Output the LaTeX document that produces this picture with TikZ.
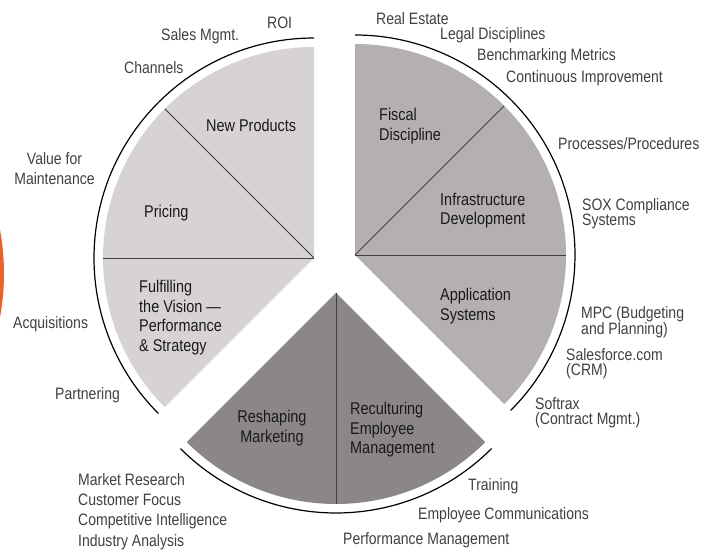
\documentclass[tikz,border=0pt]{standalone}
\usepackage{fontspec}
\setmainfont[FakeStretch=0.85]{Liberation Sans}
\usepackage{tikz}
\definecolor{lightpie}{RGB}{215,211,210}
\definecolor{midpie}{RGB}{180,176,175}
\definecolor{darkpie}{RGB}{139,135,134}
\definecolor{flame}{RGB}{232,98,42}

\begin{document}
\begin{tikzpicture}[x=1pt,y=1pt,
        sidetext/.style={inner sep=0pt,text=black!75,font=\fontsize{16.5}{20.7}\selectfont},
        sidetight/.style={sidetext,font=\fontsize{16.5}{15}\selectfont},
        slicetext/.style={inner sep=0pt,text=black!90,font=\fontsize{17}{19.5}\selectfont},
        rim/.style={line width=1.2pt},
        divider/.style={line width=0.8pt,black!75}]
        \useasboundingbox (0,0) rectangle (707,551);
        \begin{scope}
                \clip (0,0) rectangle (707,551);
                \fill[flame] (-234.5,277.5) circle (238.5);
        \end{scope}
        \coordinate (lc) at (314,293);
        \coordinate (rc) at (355,296);
        \coordinate (bc) at (336,258);
        \fill[lightpie] (lc) -- ++(90:211) arc[start angle=90,end angle=225,radius=211] -- cycle;
        \fill[midpie] (rc) -- ++(-45:211) arc[start angle=-45,end angle=90,radius=211] -- cycle;
        \fill[darkpie] (bc) -- ++(225:211) arc[start angle=225,end angle=315,radius=211] -- cycle;
        \draw[rim] ([shift={(90:220)}]lc) arc[start angle=90,end angle=225,radius=220];
        \draw[rim] ([shift={(-45:220)}]rc) arc[start angle=-45,end angle=90,radius=220];
        \draw[rim] ([shift={(225:220)}]bc) arc[start angle=225,end angle=315,radius=220];
        \draw[divider] (lc) -- ++(135:211);
        \draw[divider] (lc) -- ++(180:211);
        \draw[divider] (rc) -- ++(45:211);
        \draw[divider] (rc) -- ++(0:211);
        \draw[divider] (bc) -- ++(270:211);

        \node (newprod) at (206,432) [slicetext,anchor=north west] {New Products};
        \node (pricing) at (144,346) [slicetext,anchor=north west] {Pricing};
        \node (vision) at (139,271) [slicetext,anchor=north west,align=left] {Fulfilling\\the Vision —\\Performance\\\& Strategy};
        \node (fiscal) at (379,443) [slicetext,anchor=north west,align=left] {Fiscal\\Discipline};
        \node (infra) at (440,358) [slicetext,anchor=north west,align=left] {Infrastructure\\Development};
        \node (appsys) at (440,263) [slicetext,anchor=north west,align=left] {Application\\Systems};
        \node (reshape) at (272,141) [slicetext,anchor=north,align=center] {Reshaping\\Marketing};
        \node (recult) at (350,149) [slicetext,anchor=north west,align=left] {Reculturing\\Employee\\Management};

        \node (roi) at (267,522) [sidetext,anchor=base west] {ROI};
        \node (sales) at (161,510) [sidetext,anchor=base west] {Sales Mgmt.};
        \node (channels) at (124,477) [sidetext,anchor=base west] {Channels};
        \node (value) at (54.5,399) [sidetext,anchor=north,align=center] {Value for\\Maintenance};
        \node (acq) at (13,222) [sidetext,anchor=base west] {Acquisitions};
        \node (partner) at (55,151) [sidetext,anchor=base west] {Partnering};
        \node (market) at (78,78) [sidetext,anchor=north west,align=left,font=\fontsize{16.5}{20.3}\selectfont] {Market Research\\Customer Focus\\Competitive Intelligence\\Industry Analysis};
        \node (realest) at (376,526) [sidetext,anchor=base west] {Real Estate};
        \node (legal) at (440,511) [sidetext,anchor=base west] {Legal Disciplines};
        \node (bench) at (477,490) [sidetext,anchor=base west] {Benchmarking Metrics};
        \node (contimp) at (506,468) [sidetext,anchor=base west] {Continuous Improvement};
        \node (process) at (558,401) [sidetext,anchor=base west] {Processes/Procedures};
        \node (sox) at (582,353) [sidetight,anchor=north west,align=left] {SOX Compliance\\Systems};
        \node (mpc) at (581,245) [sidetight,anchor=north west,align=left] {MPC (Budgeting\\and Planning)};
        \node (crm) at (566,203) [sidetight,anchor=north west,align=left] {Salesforce.com\\(CRM)};
        \node (softrax) at (535,154) [sidetight,anchor=north west,align=left] {Softrax\\(Contract Mgmt.)};
        \node (training) at (468,60) [sidetext,anchor=base west] {Training};
        \node (empcom) at (418,31) [sidetext,anchor=base west] {Employee Communications};
        \node (perfman) at (343,6) [sidetext,anchor=base west] {Performance Management};
\end{tikzpicture}
\end{document}
